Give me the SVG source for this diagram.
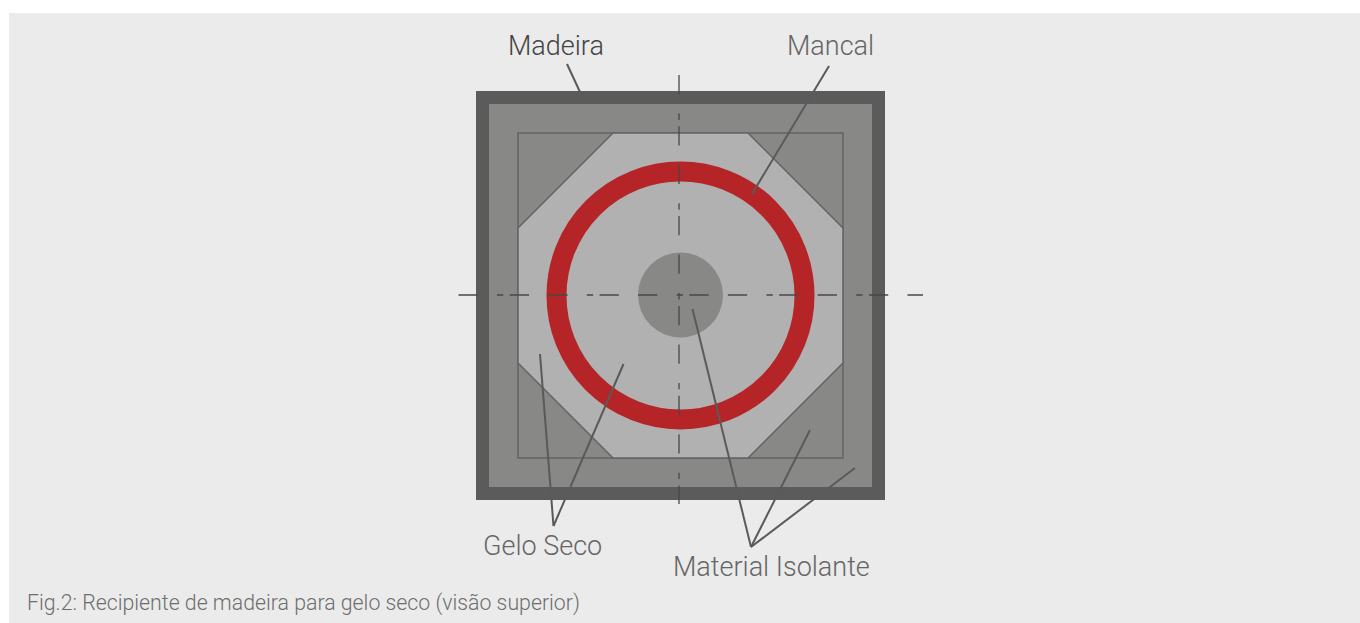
<svg xmlns="http://www.w3.org/2000/svg" width="1360" height="623" viewBox="0 0 1360 623">
<style>
text{font-family:Roboto,"Liberation Sans",sans-serif;font-weight:300;fill:#666}
.lb{font-size:27px}
.ln{stroke:#5a5a5a;stroke-width:2;fill:none}
.ax{stroke:#484848;stroke-width:1.3;fill:none;stroke-dasharray:19.25 19.25 6.4 6.4 19.25 19.25}
</style>
<rect width="1360" height="623" fill="#fff"/>
<rect x="9" y="13" width="1351" height="610" fill="#ebebeb"/>
<g id="box"><rect x="482.500" y="97.500" width="396" height="396" fill="#888886" stroke="#5b5b5b" stroke-width="13"/></g>
<g id="insulation"><rect x="518" y="133" width="325" height="325" fill="#888886" stroke="#636363" stroke-width="1.5"/></g>
<g id="octagon"><polygon points="613,133 748,133 843,228 843,363 748,458 613,458 518,363 518,228" fill="#b1b1b1" stroke="#636363" stroke-width="1.5"/></g>
<g id="bearing"><circle cx="680.500" cy="295.500" r="124" fill="none" stroke="#b52427" stroke-width="20"/></g>
<g id="core"><circle cx="680.500" cy="295" r="42.500" fill="#888886"/></g>
<g id="connectors">
<line class="ax" x1="458.500" y1="295" x2="923" y2="295"/>
<line class="ax" x1="679" y1="75" x2="679" y2="504"/>
<line class="ln" x1="567" y1="64" x2="580" y2="92"/>
<line class="ln" x1="829" y1="66" x2="752" y2="194"/>
<line class="ln" x1="540" y1="354" x2="553.500" y2="526"/>
<line class="ln" x1="623.500" y1="364" x2="553.500" y2="526"/>
<line class="ln" x1="692.500" y1="309" x2="751" y2="547"/>
<line class="ln" x1="810" y1="430" x2="751" y2="547"/>
<line class="ln" x1="855" y1="468" x2="751" y2="547"/>
</g>
<text id="t1" class="lb" x="508" y="55" style="fill:#444">Madeira</text>
<text id="t2" class="lb" x="787" y="55">Mancal</text>
<text id="t3" class="lb" x="483" y="555">Gelo Seco</text>
<text id="t4" class="lb" x="673" y="576">Material Isolante</text>
<text id="t5" x="27" y="610" font-size="21.3" style="fill:#6e6e6e">Fig.2: Recipiente de madeira para gelo seco (visão superior)</text>
</svg>
